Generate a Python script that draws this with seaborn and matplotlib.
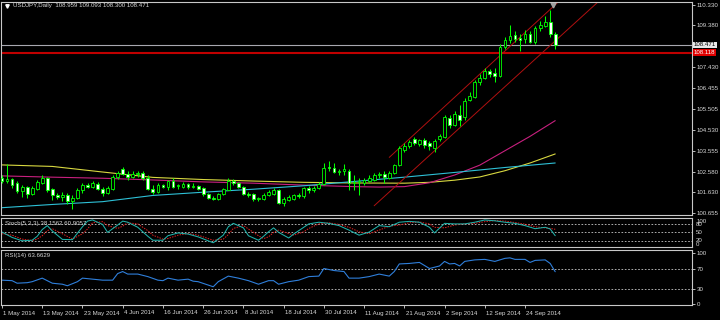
import numpy as np
import pandas as pd
import matplotlib
matplotlib.use("Agg")
import matplotlib.pyplot as plt
import seaborn as sns
from matplotlib import transforms
from matplotlib import font_manager

# ---------------- data ----------------
opens = [102.27, 102.12, 102.22, 102.05, 101.68, 101.86, 101.55, 101.78, 102.05, 102.27,
         101.75, 101.50, 101.38, 101.48, 101.20, 101.35, 101.70, 101.95, 101.85, 102.02,
         101.75, 101.60, 101.75, 102.32, 102.72, 102.45, 102.35, 102.45, 102.50, 102.30,
         101.75, 101.65, 101.95, 101.85, 102.15, 101.90, 101.85, 102.00, 101.85, 101.90,
         101.80, 101.55, 101.35, 101.30, 101.55, 101.72, 102.15, 102.05, 101.85, 101.55,
         101.55, 101.30, 101.30, 101.50, 101.55, 101.70, 101.12, 101.25, 101.30, 101.50,
         101.45, 101.80, 101.70, 101.80, 102.00, 102.80, 102.75, 102.55, 102.60, 102.60,
         102.05, 102.10, 102.05, 102.15, 102.20, 102.40, 102.45, 102.30, 102.50, 102.90,
         103.60, 103.75, 104.10, 103.85, 104.05, 103.90, 103.70, 104.10, 104.20, 105.05,
         104.75, 105.20, 105.10, 105.90, 106.05, 106.75, 106.95, 107.25, 107.15, 107.05,
         108.38, 108.70, 108.95, 108.80, 108.75, 109.00, 108.60, 109.25, 109.35, 109.55,
         108.959]
highs = [102.40, 102.95, 102.30, 102.15, 101.95, 101.92, 101.90, 102.20, 102.40, 102.35,
         101.80, 101.60, 101.62, 101.60, 101.50, 101.80, 102.05, 102.05, 102.15, 102.10,
         101.85, 101.90, 102.40, 102.60, 102.80, 102.60, 102.60, 102.60, 102.60, 102.40,
         101.95, 102.05, 102.00, 102.20, 102.30, 102.00, 102.10, 102.05, 102.05, 101.95,
         101.85, 101.60, 101.45, 101.60, 101.80, 102.30, 102.25, 102.10, 101.90, 101.65,
         101.60, 101.40, 101.60, 101.70, 101.80, 101.75, 101.40, 101.50, 101.55, 101.60,
         101.85, 101.90, 101.90, 102.10, 103.00, 103.05, 103.00, 102.70, 102.95, 102.70,
         102.40, 102.30, 102.30, 102.40, 102.50, 102.55, 102.60, 102.60, 102.95, 103.75,
         103.90, 104.05, 104.20, 104.10, 104.15, 104.00, 104.10, 104.35, 105.20, 105.20,
         105.40, 105.70, 106.00, 106.30, 106.85, 107.10, 107.40, 107.35, 107.40, 108.50,
         108.85, 109.40, 109.10, 109.00, 109.15, 109.10, 109.35, 109.60, 109.80, 110.09,
         109.093]
lows = [102.05, 102.05, 101.80, 101.60, 101.40, 101.35, 101.50, 101.70, 102.00, 101.65,
        101.28, 101.30, 101.20, 101.05, 100.82, 101.30, 101.60, 101.80, 101.80, 101.70,
        101.45, 101.55, 101.70, 102.25, 102.40, 102.20, 102.30, 102.35, 102.20, 101.70,
        101.55, 101.60, 101.80, 101.70, 101.80, 101.75, 101.80, 101.75, 101.80, 101.70,
        101.45, 101.30, 101.25, 101.25, 101.50, 101.70, 101.95, 101.80, 101.50, 101.40,
        101.20, 101.20, 101.25, 101.45, 101.50, 101.05, 101.00, 101.20, 101.25, 101.35,
        101.35, 101.60, 101.65, 101.75, 101.95, 102.60, 102.50, 102.40, 102.40, 101.70,
        101.70, 101.50, 101.95, 102.10, 102.15, 102.30, 102.05, 102.25, 102.45, 102.85,
        103.50, 103.70, 103.80, 103.75, 103.70, 103.60, 103.50, 104.00, 104.15, 104.60,
        104.70, 104.70, 105.00, 105.85, 106.00, 106.60, 106.90, 107.00, 106.75, 107.00,
        108.30, 108.55, 108.60, 108.20, 108.55, 108.55, 108.50, 109.10, 109.30, 108.85,
        108.300]
closes = [102.12, 102.25, 101.96, 101.68, 101.86, 101.52, 101.80, 102.10, 102.27, 101.72,
          101.50, 101.40, 101.50, 101.20, 101.35, 101.70, 101.95, 101.88, 102.05, 101.75,
          101.58, 101.80, 102.32, 102.50, 102.45, 102.35, 102.45, 102.52, 102.30, 101.75,
          101.65, 101.95, 101.85, 102.15, 101.85, 101.95, 102.00, 101.85, 101.90, 101.75,
          101.55, 101.35, 101.30, 101.55, 101.75, 102.15, 102.05, 101.85, 101.55, 101.50,
          101.30, 101.35, 101.50, 101.62, 101.72, 101.12, 101.32, 101.40, 101.50, 101.45,
          101.80, 101.70, 101.80, 102.00, 102.75, 102.75, 102.55, 102.60, 102.70, 102.05,
          102.10, 102.15, 102.20, 102.30, 102.40, 102.45, 102.35, 102.50, 102.90, 103.68,
          103.77, 103.95, 103.90, 104.05, 103.80, 103.75, 104.00, 104.25, 105.10, 104.75,
          105.25, 105.00, 105.85, 106.10, 106.75, 106.95, 107.25, 107.10, 107.05, 108.38,
          108.70, 108.90, 108.75, 108.72, 109.00, 108.60, 109.25, 109.40, 109.55, 108.96,
          108.471]

date_tick_idx = [0, 8, 16, 24, 32, 40, 48, 56, 64, 72, 80, 88, 96, 104]
date_tick_labels = ["1 May 2014", "13 May 2014", "23 May 2014", "4 Jun 2014", "16 Jun 2014",
                    "26 Jun 2014", "8 Jul 2014", "18 Jul 2014", "30 Jul 2014", "11 Aug 2014",
                    "21 Aug 2014", "2 Sep 2014", "12 Sep 2014", "24 Sep 2014"]

price_ticks = [110.330, 109.380, 107.430, 106.455, 105.505, 104.530, 103.555, 102.580, 101.630, 100.655]
bid_price = 108.471
level_price = 108.118

# moving averages (sampled along the curves)
ma_yellow_idx = [0, 10, 20, 30, 40, 50, 60, 70, 80, 85, 90, 95, 100, 105, 110]
ma_yellow = [102.89, 102.82, 102.56, 102.31, 102.21, 102.14, 102.08, 102.05, 102.04, 102.08,
             102.18, 102.33, 102.62, 102.98, 103.40]
ma_magenta_idx = [0, 10, 20, 30, 40, 50, 60, 70, 75, 80, 85, 90, 95, 100, 105, 110]
ma_magenta = [102.38, 102.32, 102.27, 102.19, 102.10, 102.04, 101.95, 101.88, 101.86, 101.88,
              102.06, 102.42, 102.88, 103.55, 104.22, 104.95]
ma_cyan_idx = [0, 10, 20, 30, 40, 50, 60, 70, 80, 90, 100, 110]
ma_cyan = [100.90, 101.05, 101.18, 101.47, 101.62, 101.76, 101.92, 102.12, 102.32, 102.54, 102.77, 102.98]

# channel
chan_lower_x = [74, 118.5]
chan_lower_y = [100.99, 110.47]
chan_upper_x = [77, 110.6]
chan_upper_y = [103.24, 110.47]

# stochastic (5,3,3)
stoch_idx = [0, 2, 4, 6, 7, 8, 9, 10, 12, 14, 16, 17, 18, 20, 21, 23, 24, 25, 27, 29, 30, 32, 33,
             35, 37, 39, 42, 44, 45, 46, 48, 49, 51, 52, 53, 54, 55, 57, 58, 60, 61, 63, 65, 67,
             69, 71, 73, 75, 77, 79, 81, 83, 85, 86, 88, 90, 92, 94, 96, 98, 100, 102, 104, 106,
             108, 109, 110]
stoch_k = [51, 32, 20, 22, 36, 60, 74, 55, 25, 24, 70, 90, 94, 78, 50, 76, 90, 86, 68, 36, 22, 22,
           38, 48, 44, 34, 13, 40, 70, 82, 66, 38, 22, 36, 52, 66, 50, 30, 44, 68, 80, 86, 82, 74,
           58, 40, 51, 74, 70, 86, 89, 86, 68, 48, 82, 80, 80, 86, 94, 91, 86, 82, 74, 63, 68, 62,
           38.16]
stoch_d = [45, 40, 26, 21, 26, 38, 56, 63, 45, 26, 45, 62, 84, 88, 74, 64, 72, 84, 80, 56, 40, 26,
           28, 40, 46, 40, 22, 26, 42, 64, 74, 62, 38, 28, 34, 50, 58, 46, 40, 52, 64, 80, 84, 78,
           68, 52, 45, 58, 72, 76, 84, 87, 80, 68, 66, 76, 80, 82, 88, 92, 90, 85, 79, 70, 66, 64,
           60.91]
stoch_levels = [80, 50, 20]

# RSI (14)
rsi_idx = [0, 2, 3, 5, 6, 8, 10, 12, 13, 15, 16, 18, 20, 22, 23, 24, 25, 27, 29, 31, 32, 33, 35,
           37, 38, 39, 42, 43, 45, 47, 49, 51, 53, 54, 55, 57, 59, 61, 63, 64, 66, 68, 69, 71, 73,
           75, 77, 78, 79, 81, 83, 85, 87, 88, 89, 90, 91, 92, 94, 96, 98, 100, 101, 102, 104,
           105, 106, 108, 109, 110]
rsi_vals = [47, 46, 41, 42, 44, 51, 41, 39, 36, 44, 51, 49, 47, 47, 60, 64, 59, 59, 54, 47, 46, 51,
            47, 49, 45, 44, 34, 44, 55, 51, 46, 39, 46, 46, 39, 44, 47, 54, 55, 70, 66, 64, 51, 51,
            54, 59, 55, 64, 79, 80, 82, 70, 75, 84, 79, 80, 75, 84, 87, 88, 84, 90, 91, 88, 88, 82,
            86, 87, 80, 63.66]
rsi_levels = [70, 30]

# ---------------- style ----------------
W, H = 720, 320
BG = "black"
FG = "#D8D8D8"
FRAME = "#C8C8C8"
CANDLE = "#00FF00"

try:
    font_manager.findfont("Liberation Sans Narrow", fallback_to_default=False)
    FONT = ["Liberation Sans Narrow", "DejaVu Sans"]
    FS = 5.2
except Exception:
    FONT = ["Liberation Sans", "DejaVu Sans"]
    FS = 4.4

sns.set_style("dark")
plt.rcParams["font.family"] = FONT
plt.rcParams["axes.facecolor"] = BG
plt.rcParams["figure.facecolor"] = BG

fig = plt.figure(figsize=(W / 100, H / 100), dpi=100)


def px_axes(x0, y0, x1, y1):
    return fig.add_axes([x0 / W, 1 - y1 / H, (x1 - x0) / W, (y1 - y0) / H])


ax = px_axes(1, 2, 692, 215)
ax_st = px_axes(1, 218, 692, 247)
ax_rsi = px_axes(1, 250, 692, 305)

XLIM = (-0.2, 137.2)
for a in (ax, ax_st, ax_rsi):
    a.set_facecolor(BG)
    a.grid(False)
    a.set_xlim(*XLIM)
    for s in a.spines.values():
        s.set_visible(True)
        s.set_color(FRAME)
        s.set_linewidth(0.8)
    a.set_xticks([])
    a.yaxis.tick_right()
    a.tick_params(axis="y", colors=FG, labelsize=FS, length=2, width=0.6, pad=1.5, right=True)

# ---------------- main price panel ----------------
ax.set_ylim(100.56, 110.47)
ax.set_yticks(price_ticks)
ax.set_yticklabels([f"{v:.3f}" for v in price_ticks])

n = len(closes)
df = pd.DataFrame({"i": np.arange(n), "open": opens, "high": highs, "low": lows, "close": closes})
bull = df["close"] >= df["open"]

# moving averages
sns.lineplot(x=ma_yellow_idx, y=ma_yellow, ax=ax, color="#D8D840", lw=0.8, estimator=None, zorder=2)
sns.lineplot(x=ma_magenta_idx, y=ma_magenta, ax=ax, color="#C8207F", lw=0.8, estimator=None, zorder=2)
sns.lineplot(x=ma_cyan_idx, y=ma_cyan, ax=ax, color="#2EC0D6", lw=0.8, estimator=None, zorder=2)

# channel
sns.lineplot(x=chan_lower_x, y=chan_lower_y, ax=ax, color="#B01010", lw=0.7, estimator=None, zorder=2)
sns.lineplot(x=chan_upper_x, y=chan_upper_y, ax=ax, color="#B01010", lw=0.7, estimator=None, zorder=2)

# horizontal lines
ax.axhline(bid_price, color="#A8A8B0", lw=0.8, zorder=1)
ax.axhline(level_price, color="#C00000", lw=1.5, zorder=1)

# candles
ax.vlines(df["i"], df["low"], df["high"], color=CANDLE, lw=0.75, zorder=3)
ax.bar(df["i"][bull], (df["close"] - df["open"])[bull], bottom=df["open"][bull], width=0.55,
       color="black", edgecolor=CANDLE, linewidth=0.6, zorder=4)
ax.bar(df["i"][~bull], (df["open"] - df["close"])[~bull], bottom=df["close"][~bull], width=0.55,
       color="white", edgecolor=CANDLE, linewidth=0.6, zorder=4)

# price tags on the right
ytr = transforms.blended_transform_factory(ax.transAxes, ax.transData)
ax.text(1.003, bid_price, f"{bid_price:.3f}", transform=ytr, fontsize=FS, color="black",
        va="center", ha="left", clip_on=False,
        bbox=dict(boxstyle="square,pad=0.12", fc="#E8E8E8", ec="none"), zorder=6)
ax.text(1.003, level_price, f"{level_price:.3f}", transform=ytr, fontsize=FS, color="white",
        va="center", ha="left", clip_on=False,
        bbox=dict(boxstyle="square,pad=0.12", fc="#E00000", ec="none"), zorder=5)

# chart-shift marker and title
ax.plot([109.5], [0.985], marker="v", ms=3.5, color="#A0A0A0", mec="#A0A0A0",
        transform=transforms.blended_transform_factory(ax.transData, ax.transAxes), clip_on=False)
ax.plot([0.008], [0.982], marker="v", ms=2.5, color="white", transform=ax.transAxes, clip_on=False)
ax.text(12 / 691, 0.982, "USDJPY,Daily  108.959 109.093 108.300 108.471", transform=ax.transAxes,
        fontsize=FS, color=FG, va="center", ha="left")

# ---------------- stochastic panel ----------------
ax_st.set_ylim(-2, 101)
ax_st.set_yticks([])
for lv in stoch_levels:
    ax_st.axhline(lv, color="#C8C8C8", lw=0.6, ls=(0, (2, 2)))
sns.lineplot(x=stoch_idx, y=stoch_d, ax=ax_st, color="#E02020", lw=0.7, estimator=None,
             linestyle=(0, (1.5, 1.2)))
sns.lineplot(x=stoch_idx, y=stoch_k, ax=ax_st, color="#20B2AA", lw=0.75, estimator=None)
ax_st.text(4 / 691, 0.82, "Stoch(5,3,3) 38.1562 60.9057", transform=ax_st.transAxes,
           fontsize=FS, color=FG, va="center", ha="left")
st_tr = transforms.blended_transform_factory(ax_st.transAxes, ax_st.transData)
for lab, yv in [("100", 90), ("80", 78), ("50", 50), ("20", 21), ("0", 8)]:
    ax_st.text(1.006, yv, lab, transform=st_tr, fontsize=FS, color=FG, va="center",
               ha="left", clip_on=False)

# ---------------- RSI panel ----------------
ax_rsi.set_ylim(-2, 106.5)
ax_rsi.set_yticks([100, 70, 30, 0])
ax_rsi.set_yticklabels(["100", "70", "30", "0"])
for lv in rsi_levels:
    ax_rsi.axhline(lv, color="#C8C8C8", lw=0.6, ls=(0, (2, 2)))
sns.lineplot(x=rsi_idx, y=rsi_vals, ax=ax_rsi, color="#2F7FDB", lw=0.8, estimator=None)
ax_rsi.text(4 / 691, 0.90, "RSI(14) 63.6629", transform=ax_rsi.transAxes,
            fontsize=FS, color=FG, va="center", ha="left")

# date axis
ax_rsi.set_xticks(date_tick_idx)
ax_rsi.set_xticklabels([])
ax_rsi.tick_params(axis="x", colors=FG, length=2, width=0.6, direction="out", bottom=True)
dtr = transforms.blended_transform_factory(ax_rsi.transData, fig.transFigure)
for xi, lab in zip(date_tick_idx, date_tick_labels):
    fig.text(xi + 0.25, 1 - 313 / H, lab, transform=dtr, fontsize=FS, color=FG,
             va="center", ha="left")

for a in (ax, ax_st, ax_rsi):
    a.set_xlabel("")
    a.set_ylabel("")
    a.set_xlim(*XLIM)

fig.savefig("out.png", dpi=100, facecolor=BG)
